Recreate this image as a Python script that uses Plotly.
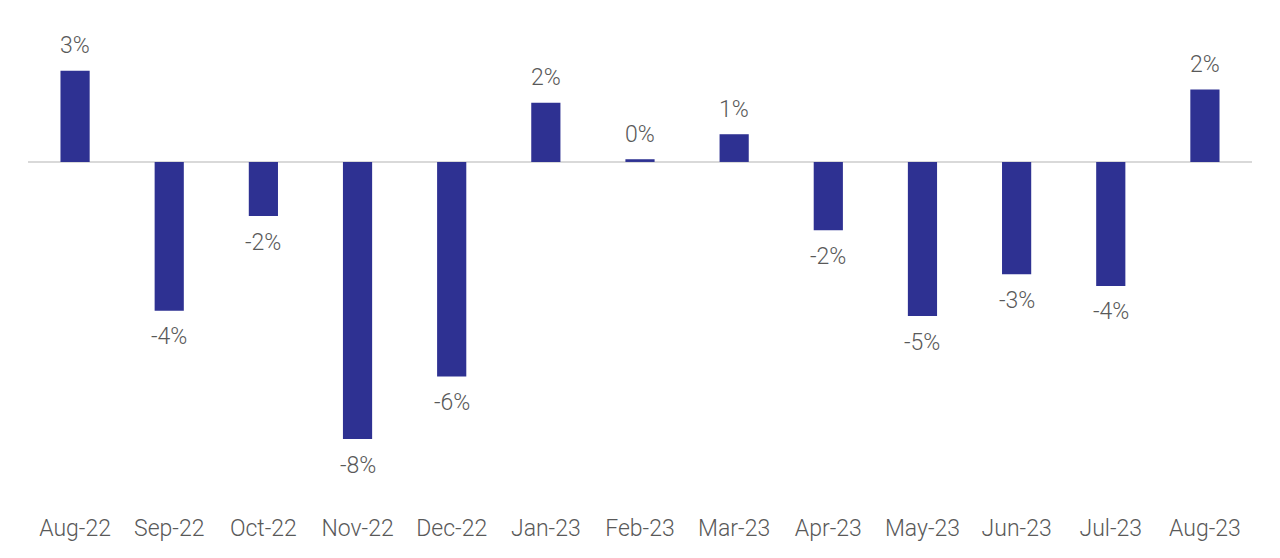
import plotly.graph_objects as go

months = ["Aug-22", "Sep-22", "Oct-22", "Nov-22", "Dec-22", "Jan-23", "Feb-23",
          "Mar-23", "Apr-23", "May-23", "Jun-23", "Jul-23", "Aug-23"]
values = [2.7, -4.4, -1.6, -8.2, -6.35, 1.75, 0.08, 0.82, -2.02, -4.56, -3.32, -3.67, 2.14]
labels = ["3%", "-4%", "-2%", "-8%", "-6%", "2%", "0%", "1%", "-2%", "-5%", "-3%", "-4%", "2%"]

BAR = "#2e3192"
TXT = "#595959"
FONT = "Roboto"

fig = go.Figure()
fig.add_trace(go.Bar(x=months, y=values, marker=dict(color=BAR, line=dict(width=0)),
                     hoverinfo="skip"))

for m, v, t in zip(months, values, labels):
    fig.add_annotation(x=m, y=v, text=t, showarrow=False, yanchor="middle",
                       yshift=25 if v >= 0 else -26,
                       font=dict(family=FONT, size=23, color=TXT, weight=300))

fig.update_layout(
    width=1280, height=558,
    margin=dict(l=20, r=36, t=12, b=60),
    paper_bgcolor="white", plot_bgcolor="white",
    bargap=0.69, showlegend=False,
    xaxis=dict(showgrid=False, showline=False, ticks="", ticklabelstandoff=6,
               tickfont=dict(family=FONT, size=23, color=TXT, weight=300)),
    yaxis=dict(range=[-10.18, 4.2], showgrid=False, showticklabels=False,
               zeroline=True, zerolinecolor="#d9d9d9", zerolinewidth=1.5),
)

fig.write_html("out.html")
